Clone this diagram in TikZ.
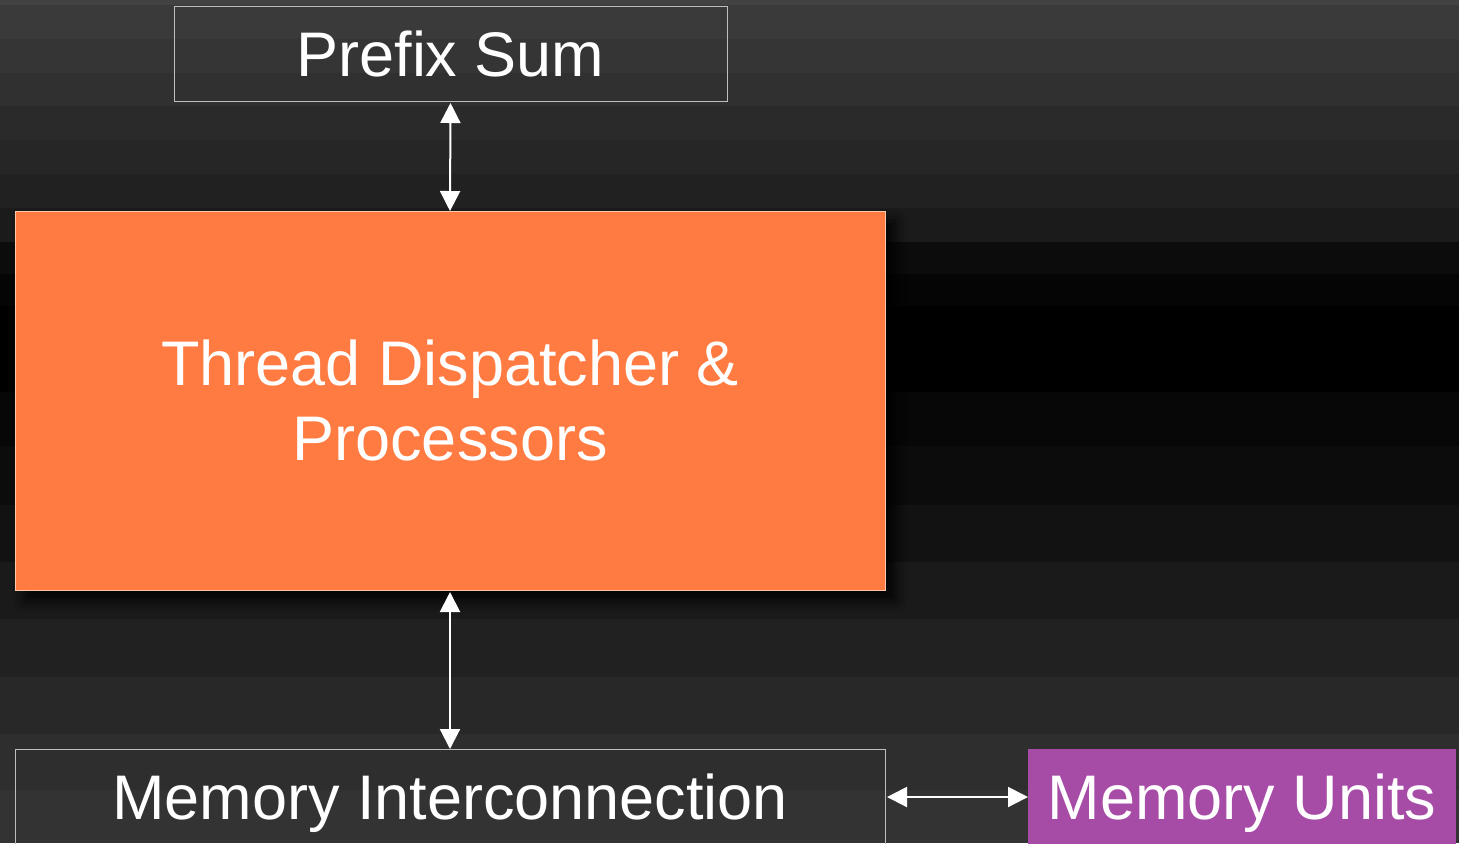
\documentclass[tikz,border=0pt]{standalone}
\usepackage{fontspec}
\setmainfont{Liberation Sans}
\usetikzlibrary{arrows.meta,shadows.blur}

\definecolor{blockorange}{RGB}{255,123,65}
\definecolor{unitpurple}{RGB}{166,76,166}
\definecolor{frameline}{RGB}{190,190,190}

\tikzset{
  box/.style={draw=frameline, line width=0.5pt, inner sep=0pt, outer sep=0pt,
    text=white, font=\fontsize{31.5}{37.5}\selectfont, align=center},
  capbox/.style={box, text height=22.5pt, text depth=0pt},
  corebox/.style={box, fill=blockorange, draw={rgb,255:red,255;green,200;blue,170},
    blur shadow={shadow xshift=5pt, shadow yshift=-5pt, shadow blur radius=6pt,
      shadow opacity=90}},
  unitbox/.style={capbox, draw=none, fill=unitpurple},
  link/.style={draw=white, line width=1pt,
    {Triangle[length=10pt,width=10pt]}-{Triangle[length=10pt,width=10pt]}}
}

\begin{document}
\begin{tikzpicture}[x=0.5pt, y=-0.5pt]
  % striped backdrop, dark band through the middle
  \useasboundingbox (0,0) rectangle (1459,843);
  \foreach \ya/\yb/\g in {0/5/66, 5/39/58, 39/73/53, 73/106/48, 106/140/42,
      140/174/38, 174/208/33, 208/242/27, 242/274/12, 274/306/5, 306/392/0,
      392/446/7, 446/505/12, 505/562/18, 562/619/26, 619/677/33, 677/734/40,
      734/790/46, 790/843/51}{
    \definecolor{bandc}{RGB}{\g,\g,\g}
    \fill[bandc] (0,\ya) rectangle (1459,\yb);
  }

  % blocks
  \node[capbox, minimum width=276.5pt, minimum height=47.5pt] (pre) at (450.5,53.5) {Prefix Sum};
  \node[corebox, minimum width=435pt, minimum height=189.5pt] (td) at (450,400.5)
    {Thread Dispatcher \&\\Processors};
  \node[capbox, minimum width=435pt, minimum height=48pt] (mi) at (450,797) {Memory Interconnection};
  \node[unitbox, minimum width=214pt, minimum height=48pt] (mu) at (1242,797) {Memory Units};

  % links
  \draw[link] ([yshift=-1pt]pre.south) -- (td.north);
  \draw[link] ([yshift=-1pt]td.south) -- (mi.north);
  \draw[link] ([xshift=1pt]mi.east) -- (mu.west);
\end{tikzpicture}
\end{document}
